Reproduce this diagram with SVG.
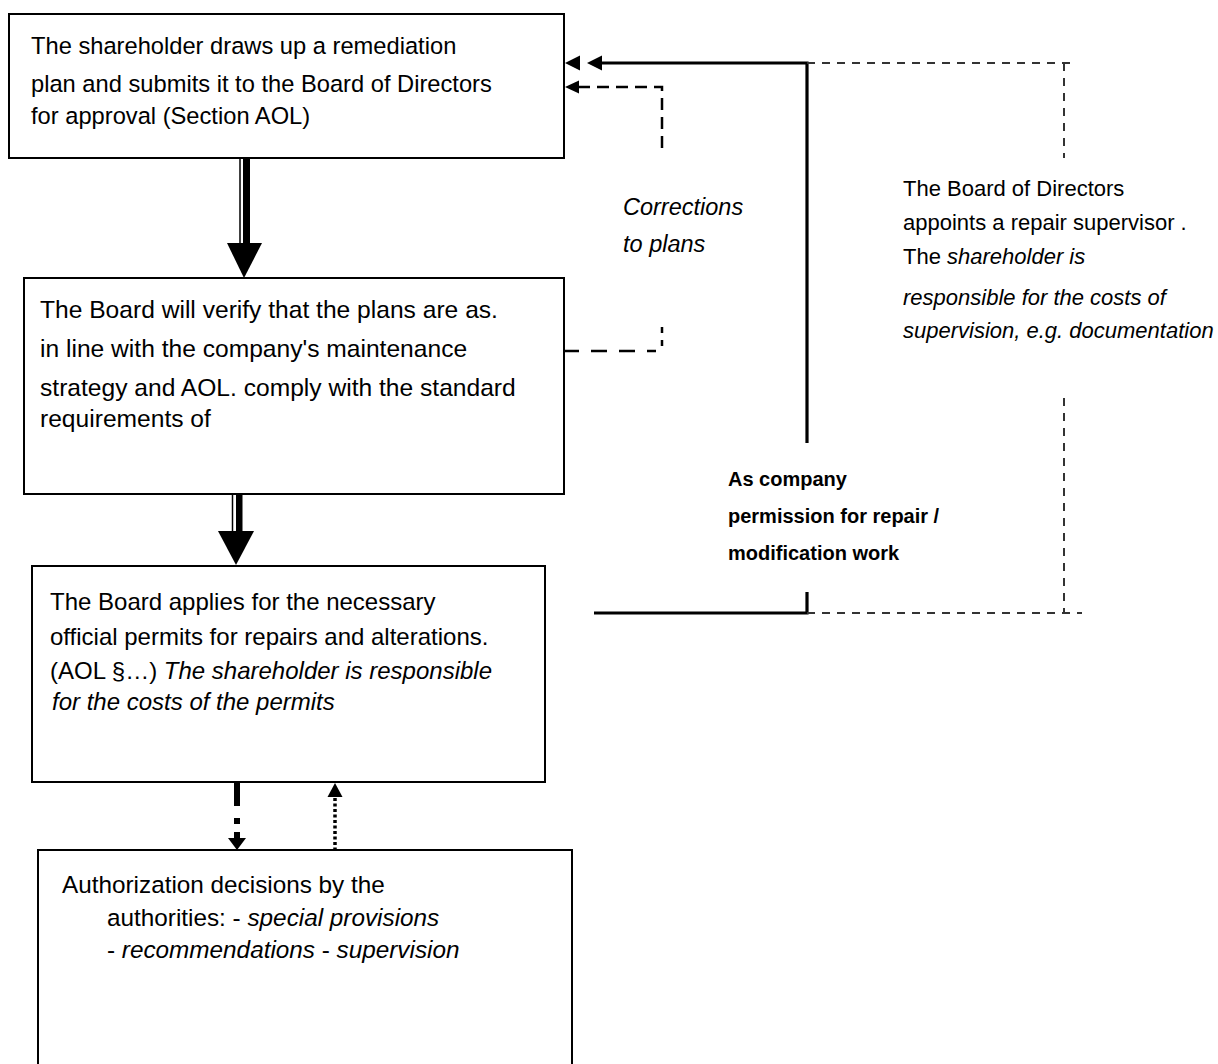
<svg xmlns="http://www.w3.org/2000/svg" width="1218" height="1064" viewBox="0 0 1218 1064">
<style>
.box{fill:#fff;stroke:#000;stroke-width:2}
text{font-family:"Liberation Sans",Arial,sans-serif;font-size:24px;fill:#000}
#n1 text{font-size:23.7px}
#n2 text{font-size:24.6px}
#n4 text{font-size:24.3px}
#corrections text{font-size:23.5px}
.i{font-style:italic}
.side{font-size:22px}
.b{font-weight:bold;font-size:20px}
.solid{fill:none;stroke:#000;stroke-width:3.2}
.dash{fill:none;stroke:#000;stroke-width:2.5}
.thin{fill:none;stroke:#333;stroke-width:2;stroke-dasharray:8 7}
.head{fill:#000;stroke:none}
</style>
<rect width="1218" height="1064" fill="#fff"/>
<g id="nodes">
<g id="n1">
<rect class="box" x="9" y="14" width="555" height="144"/>
<text x="31" y="54">The shareholder draws up a remediation</text>
<text x="31" y="92">plan and submits it to the Board of Directors</text>
<text x="31" y="124">for approval (Section AOL)</text>
</g>
<g id="n2">
<rect class="box" x="24" y="278" width="540" height="216"/>
<text x="40" y="318">The Board will verify that the plans are as.</text>
<text x="40" y="357">in line with the company's maintenance</text>
<text x="40" y="396">strategy and AOL. comply with the standard</text>
<text x="40" y="427">requirements of</text>
</g>
<g id="n3">
<rect class="box" x="32" y="566" width="513" height="216"/>
<text x="50" y="610">The Board applies for the necessary</text>
<text x="50" y="645">official permits for repairs and alterations.</text>
<text x="50" y="679">(AOL §…) <tspan class="i">The shareholder is responsible</tspan></text>
<text x="52" y="710" class="i">for the costs of the permits</text>
</g>
<g id="n4">
<rect class="box" x="38" y="850" width="534" height="230"/>
<text x="62" y="893">Authorization decisions by the</text>
<text x="107" y="926">authorities: - <tspan class="i">special provisions</tspan></text>
<text x="107" y="958">- <tspan class="i">recommendations</tspan> - <tspan class="i">supervision</tspan></text>
</g>
<g id="corrections">
<text x="623" y="215" class="i">Corrections</text>
<text x="623" y="252" class="i">to plans</text>
</g>
<g id="supervisor">
<text x="903" y="196" class="side">The Board of Directors</text>
<text x="903" y="230" class="side">appoints a repair supervisor .</text>
<text x="903" y="264" class="side">The <tspan class="i">shareholder is</tspan></text>
<text x="903" y="305" class="side i">responsible for the costs of</text>
<text x="903" y="338" class="side i">supervision, e.g. documentation</text>
</g>
<g id="permission">
<text x="728" y="486" class="b">As company</text>
<text x="728" y="523" class="b">permission for repair /</text>
<text x="728" y="560" class="b">modification work</text>
</g>
</g>
<g id="connectors">
<line x1="240" y1="158" x2="240" y2="243" stroke="#000" stroke-width="1.5"/>
<rect class="head" x="243" y="158" width="7" height="85"/>
<polygon class="head" points="227,243 262,243 244,278"/>
<line x1="232.5" y1="494" x2="232.5" y2="531" stroke="#000" stroke-width="1.5"/>
<rect class="head" x="236" y="494" width="6.5" height="37"/>
<polygon class="head" points="218,531 254,531 236,565"/>
<rect class="head" x="234" y="782" width="6" height="24"/>
<rect class="head" x="234" y="818" width="6" height="6"/>
<rect class="head" x="234" y="832" width="6" height="8"/>
<polygon class="head" points="228,838 246,838 237,850"/>
<line x1="335" y1="798" x2="335" y2="850" stroke="#000" stroke-width="3.5" stroke-dasharray="3 2.5"/>
<polygon class="head" points="327.5,797 342.5,797 335,783"/>
<path class="solid" d="M600,63 H807 V443"/>
<polygon class="head" points="565,63 580,55.5 580,70.5"/>
<polygon class="head" points="587,63 602,55.5 602,70.5"/>
<path class="solid" d="M594,613 H807 V592"/>
<path class="dash" d="M578,87 H662 V150" stroke-dasharray="12 7"/>
<polygon class="head" points="565,87 579,80.5 579,93.5"/>
<path class="dash" d="M563,351 H656" stroke-dasharray="16 12"/>
<path class="dash" d="M662,327 V352" stroke-dasharray="6 7"/>
<path class="thin" d="M807,63 H1074"/>
<path class="thin" d="M1064,63 V158"/>
<path class="thin" d="M1064,398 V613"/>
<path class="thin" d="M807,613 H1082"/>
</g>
</svg>
